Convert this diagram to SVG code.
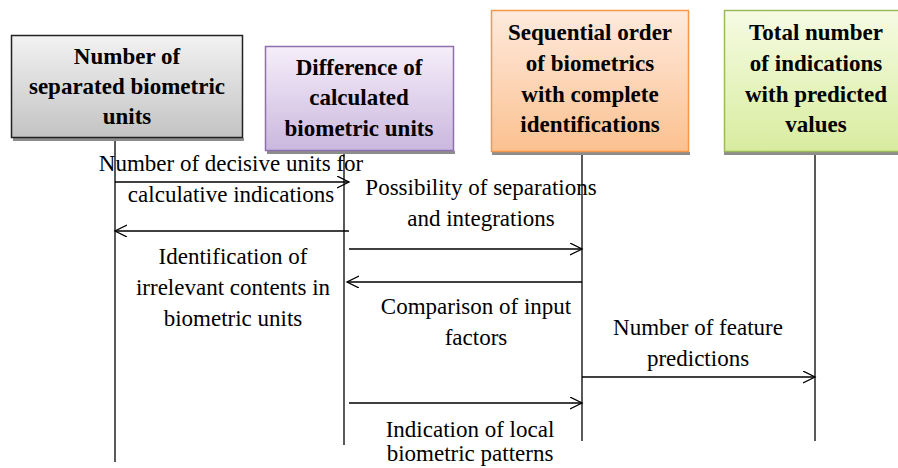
<svg xmlns="http://www.w3.org/2000/svg" width="898" height="468" viewBox="0 0 898 468">
<style>
.t{font-family:"Liberation Serif","Times New Roman",serif;font-size:23px;fill:#000;text-anchor:middle}
.b{font-family:"Liberation Serif","Times New Roman",serif;font-size:23px;font-weight:bold;fill:#000;text-anchor:middle}
.ll{stroke:#000;stroke-width:1.3;fill:none}
.ar{stroke:#000;stroke-width:1.3;fill:none;marker-end:url(#ah)}
.sh{fill:#8c8c8c}
</style>
<defs>
<linearGradient id="g1" x1="0" y1="0" x2="0" y2="1"><stop offset="0" stop-color="#f2f2f2"/><stop offset="1" stop-color="#c3c3c3"/></linearGradient>
<linearGradient id="g2" x1="0" y1="0" x2="0" y2="1"><stop offset="0" stop-color="#f5eefa"/><stop offset="1" stop-color="#cbb7de"/></linearGradient>
<linearGradient id="g3" x1="0" y1="0" x2="0" y2="1"><stop offset="0" stop-color="#feeadd"/><stop offset="1" stop-color="#fbc190"/></linearGradient>
<linearGradient id="g4" x1="0" y1="0" x2="0" y2="1"><stop offset="0" stop-color="#f6fbe3"/><stop offset="1" stop-color="#d8ec9f"/></linearGradient>
<marker id="ah" markerWidth="14" markerHeight="14" refX="12" refY="6" orient="auto" markerUnits="userSpaceOnUse">
<path d="M0,0 L12,6 L0,12" fill="none" stroke="#000" stroke-width="1.3"/>
</marker>
</defs>
<g id="node1">
<rect class="sh" x="13" y="138" width="231" height="3"/>
<rect x="11.5" y="35.5" width="231" height="102" fill="url(#g1)" stroke="#222" stroke-width="1.5"/>
<text class="b" x="127" y="64">Number of</text>
<text class="b" x="127" y="94">separated biometric</text>
<text class="b" x="127" y="124">units</text>
</g>
<g id="node2">
<rect class="sh" x="267" y="151" width="188" height="3"/>
<rect x="265.5" y="46.5" width="188" height="104" fill="url(#g2)" stroke="#8e70ae" stroke-width="1.5"/>
<text class="b" x="359" y="75">Difference of</text>
<text class="b" x="359" y="105">calculated</text>
<text class="b" x="359" y="136">biometric units</text>
</g>
<g id="node3">
<rect class="sh" x="492" y="152" width="198" height="3"/>
<rect x="491.5" y="10.5" width="197" height="141" fill="url(#g3)" stroke="#f79646" stroke-width="1.5"/>
<text class="b" x="590" y="40">Sequential order</text>
<text class="b" x="590" y="71">of biometrics</text>
<text class="b" x="590" y="102">with complete</text>
<text class="b" x="590" y="132">identifications</text>
</g>
<g id="node4">
<rect class="sh" x="724" y="152" width="176" height="3"/>
<rect x="724.5" y="10.5" width="176" height="141" fill="url(#g4)" stroke="#9bbb59" stroke-width="1.5"/>
<text class="b" x="816" y="40">Total number</text>
<text class="b" x="816" y="71">of indications</text>
<text class="b" x="816" y="102">with predicted</text>
<text class="b" x="816" y="132">values</text>
</g>
<g id="connectors">
<line class="ll" x1="115" y1="141" x2="115" y2="462"/>
<line class="ll" x1="344" y1="154" x2="344" y2="445"/>
<line class="ll" x1="582" y1="155" x2="582" y2="441"/>
<line class="ll" x1="815" y1="155" x2="815" y2="441"/>
<line class="ar" x1="115" y1="182" x2="349" y2="182"/>
<line class="ar" x1="349" y1="231" x2="115" y2="231"/>
<line class="ar" x1="349" y1="249" x2="582" y2="249"/>
<line class="ar" x1="582" y1="282" x2="347" y2="282"/>
<line class="ar" x1="582" y1="377" x2="815" y2="377"/>
<line class="ar" x1="349" y1="403" x2="582" y2="403"/>
</g>
<g id="labels">
<text class="t" x="231" y="171">Number of decisive units for</text>
<text class="t" x="231" y="202">calculative indications</text>
<text class="t" x="481" y="195">Possibility of separations</text>
<text class="t" x="481" y="226">and integrations</text>
<text class="t" x="233" y="264">Identification of</text>
<text class="t" x="233" y="295">irrelevant contents in</text>
<text class="t" x="233" y="326">biometric units</text>
<text class="t" x="476" y="314">Comparison of input</text>
<text class="t" x="476" y="345">factors</text>
<text class="t" x="698" y="335">Number of feature</text>
<text class="t" x="698" y="366">predictions</text>
<text class="t" x="470" y="437">Indication of local</text>
<text class="t" x="470" y="461">biometric patterns</text>
</g>
</svg>
